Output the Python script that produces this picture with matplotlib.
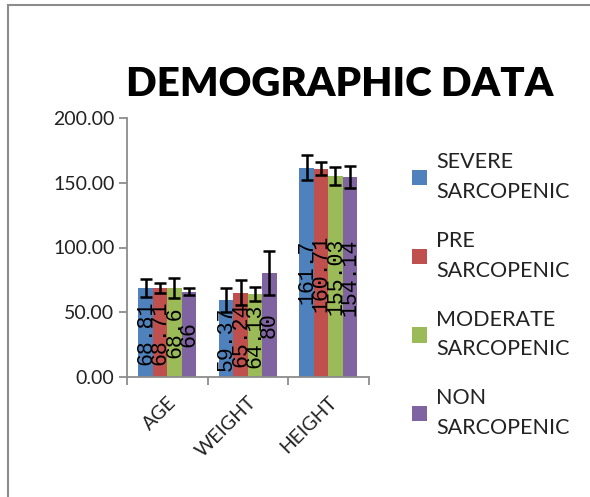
import numpy as np
import matplotlib
matplotlib.use("Agg")
import matplotlib.pyplot as plt
from matplotlib.patches import Rectangle

categories = ["AGE", "WEIGHT", "HEIGHT"]
groups = ["SEVERE\nSARCOPENIC", "PRE\nSARCOPENIC", "MODERATE\nSARCOPENIC", "NON\nSARCOPENIC"]
colors = ["#4F81BD", "#C0504D", "#9BBB59", "#8064A2"]

severe = [68.81, 59.37, 161.7]
pre = [68.71, 65.24, 160.71]
moderate = [68.6, 64.13, 155.03]
non = [66, 80, 154.14]
values = [severe, pre, moderate, non]

severe_err = [7.0, 9.0, 9.5]
pre_err = [4.0, 10.0, 5.0]
moderate_err = [7.7, 5.5, 7.0]
non_err = [3.0, 17.0, 8.5]
errors = [severe_err, pre_err, moderate_err, non_err]

labels = [["68.81", "59.37", "161.7"],
          ["68.71", "65.24", "160.71"],
          ["68.6", "64.13", "155.03"],
          ["66", "80", "154.14"]]

plt.rcParams['font.family'] = ['Lato', 'DejaVu Sans']

fig = plt.figure(figsize=(5.9, 4.97), dpi=100)

# outer chart frame
fig.patches.append(Rectangle((8 / 590, -0.1), 1.2, 1.1 - 5 / 497, transform=fig.transFigure,
                             fill=False, edgecolor="#8c8c8c", linewidth=1.5))

ax = fig.add_axes([127 / 590, 1 - 377 / 497, 241.5 / 590, 259 / 497])

x = np.arange(len(categories))
w = 0.18
for i in range(4):
    pos = x + (i - 1.5) * w
    ax.bar(pos, values[i], w, color=colors[i], label=groups[i], zorder=2)
    ax.errorbar(pos, values[i], yerr=errors[i], fmt="none", ecolor="black",
                elinewidth=1.8, capsize=4.5, capthick=1.8, zorder=3)
    for j in range(len(categories)):
        ax.text(pos[j], values[i][j] / 2, labels[i][j], rotation=90, ha="center", va="center",
                family="Liberation Mono", fontsize=15.5, color="black", zorder=4)

ax.set_xlim(-0.5, 2.5)
ax.set_ylim(0, 200)
ax.set_yticks([0, 50, 100, 150, 200])
ax.set_yticklabels(["0.00", "50.00", "100.00", "150.00", "200.00"], fontsize=14, color="#222222")
ax.set_xticks(x)
ax.set_xticklabels(categories, rotation=45, ha="right", rotation_mode="anchor", fontsize=14, color="#222222")
ax.set_xticks([-0.5, 0.5, 1.5, 2.5], minor=True)
ax.tick_params(axis="x", which="major", length=0, pad=12)
ax.tick_params(axis="x", which="minor", length=6, width=1.3, color="#8c8c8c", direction="out")
ax.tick_params(axis="y", length=6, width=1.3, color="#8c8c8c", direction="out", pad=3)
for s in ["top", "right"]:
    ax.spines[s].set_visible(False)
for s in ["left", "bottom"]:
    ax.spines[s].set_color("#8c8c8c")
    ax.spines[s].set_linewidth(1.3)

fig.text(340 / 590, 1 - 84 / 497, "DEMOGRAPHIC DATA", ha="center", va="center",
         fontsize=29, fontweight="heavy", color="black")

leg = fig.legend(loc="upper left", bbox_to_anchor=(393 / 590, 1 - 133 / 497), frameon=False,
                 fontsize=15.5, handlelength=0.7, handleheight=0.7, handletextpad=0.4,
                 labelspacing=1.35)
for t in leg.get_texts():
    t.set_color("#222222")
    t.set_linespacing(1.6)

fig.savefig("out.png", dpi=100)
